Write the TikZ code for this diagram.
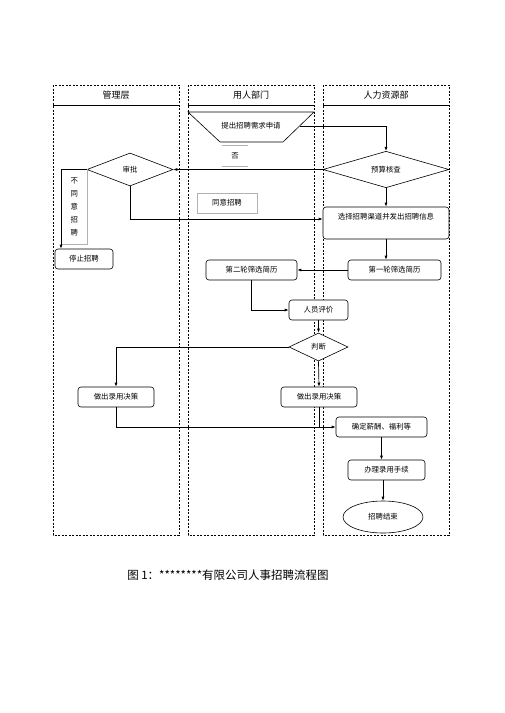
\documentclass[tikz,border=0pt]{standalone}
\usepackage{fontspec}
\setmainfont{Noto Sans CJK SC}
\usetikzlibrary{shapes.geometric, positioning, arrows.meta, calc}

\begin{document}
\begin{tikzpicture}[x=1pt, y=-1pt,
    lane/.style={draw, dash pattern=on 2pt off 1.5pt, line width=0.5pt},
    head/.style={font=\fontsize{9}{11}\selectfont},
    box/.style={draw, fill=white, rounded corners=3pt, line width=0.6pt, minimum height=20, inner sep=0pt, font=\fontsize{7.4}{9}\selectfont},
    decision/.style={draw, fill=white, diamond, line width=0.6pt, inner sep=0pt, font=\fontsize{7.4}{9}\selectfont},
    note/.style={draw=gray!60, fill=white, line width=0.5pt, inner sep=0pt, font=\fontsize{7.4}{9}\selectfont},
    arr/.style={-{Latex[length=4pt, width=3pt]}, line width=0.7pt},
    link/.style={line width=0.7pt}]
    \useasboundingbox (0,0) rectangle (504,713);

    % Swim lanes
    \draw[lane] (53,85) rectangle (179,535);
    \draw[lane] (188,85) rectangle (314,535);
    \draw[lane] (323,85) rectangle (449,535);
    \draw[line width=0.5pt] (53,105) -- (179,105) (188,105) -- (314,105) (323,105) -- (449,105);
    \node[head] (mgmt) at (116,95) {管理层};
    \node[head] (dept) at (251,95) {用人部门};
    \node[head] (hr) at (386,95) {人力资源部};

    % Request (inverted trapezoid)
    \draw[line width=0.6pt, fill=white] (188,112) -- (314,112) -- (283,142) -- (220,142) -- cycle;
    \node[font=\fontsize{7.4}{9}\selectfont] (req) at (251,126) {提出招聘需求申请};
    \coordinate (reqE) at (300,126);

    % Decisions
    \node[decision, minimum width=126, minimum height=33] (budget) at (386,169.5) {预算核查};
    \node[decision, minimum width=86, minimum height=33] (approve) at (130,169.5) {审批};
    \node[decision, minimum width=59, minimum height=28] (judge) at (318.5,347) {判断};

    % Notes
    \node[font=\fontsize{7.4}{9}\selectfont, minimum width=26, minimum height=21, inner sep=0pt] (no) at (235,155.5) {否};
    \draw[gray!60, line width=0.5pt] (no.north west) -- (no.north east) (no.south west) -- (no.south east);
    \node[note, minimum width=60, minimum height=20] (agree) at (227,203) {同意招聘};
    \node[note, anchor=north west, minimum width=26, minimum height=75, align=center, font=\fontsize{7.4}{13}\selectfont] (disagree) at (61,169) {不\\同\\意\\招\\聘};

    % Process boxes
    \node[box, minimum width=126, minimum height=32, text depth=13pt] (select) at (386,223) {选择招聘渠道并发出招聘信息};
    \node[box, minimum width=58] (stop) at (84,259) {停止招聘};
    \node[box, minimum width=93] (first) at (394.5,270) {第一轮筛选简历};
    \node[box, minimum width=91] (second) at (251.5,270) {第二轮筛选简历};
    \node[box, minimum width=59] (eval) at (318.5,310) {人员评价};
    \node[box, minimum width=76] (decL) at (116,397) {做出录用决策};
    \node[box, minimum width=76] (decM) at (319,397) {做出录用决策};
    \node[box, minimum width=91] (salary) at (381.5,427) {确定薪酬、福利等};
    \node[box, minimum width=77] (proc) at (386.5,470) {办理录用手续};
    \node[draw, fill=white, ellipse, line width=0.6pt, minimum width=80, minimum height=32, inner sep=0pt, font=\fontsize{7.4}{9}\selectfont] (finish) at (383,517) {招聘结束};

    % Connectors
    \draw[arr] (reqE) -| (budget.north);
    \draw[arr] (budget.west) -- (approve.east);
    \draw[arr] (approve.west) -- (approve.west -| disagree.west) -- (disagree.west |- stop.north);
    \draw[arr] (approve.south) |- ([yshift=4pt]select.west);
    \draw[arr] (budget.south) -- (select.north);
    \draw[arr] (select.south) -- (select.south |- first.north);
    \draw[arr] (first.west) -- (second.east);
    \draw[arr] (second.south) |- (eval.west);
    \draw[arr] (eval.south) -- (judge.north);
    \draw[arr] (judge.west) -| (decL.north);
    \draw[arr] (judge.south) -- (decM.north);
    \draw[arr] (decL.south) |- (salary.west);
    \draw[link] (decM.south) -- (decM.south |- salary.west);
    \draw[arr] (salary.south) -- (salary.south |- proc.north);
    \draw[arr] (finish.north |- proc.south) -- (finish.north);

    % Caption
    \node[font=\fontsize{11.5}{14}\selectfont] (caption) at (228,575) {图 1：********有限公司人事招聘流程图};
\end{tikzpicture}
\end{document}
